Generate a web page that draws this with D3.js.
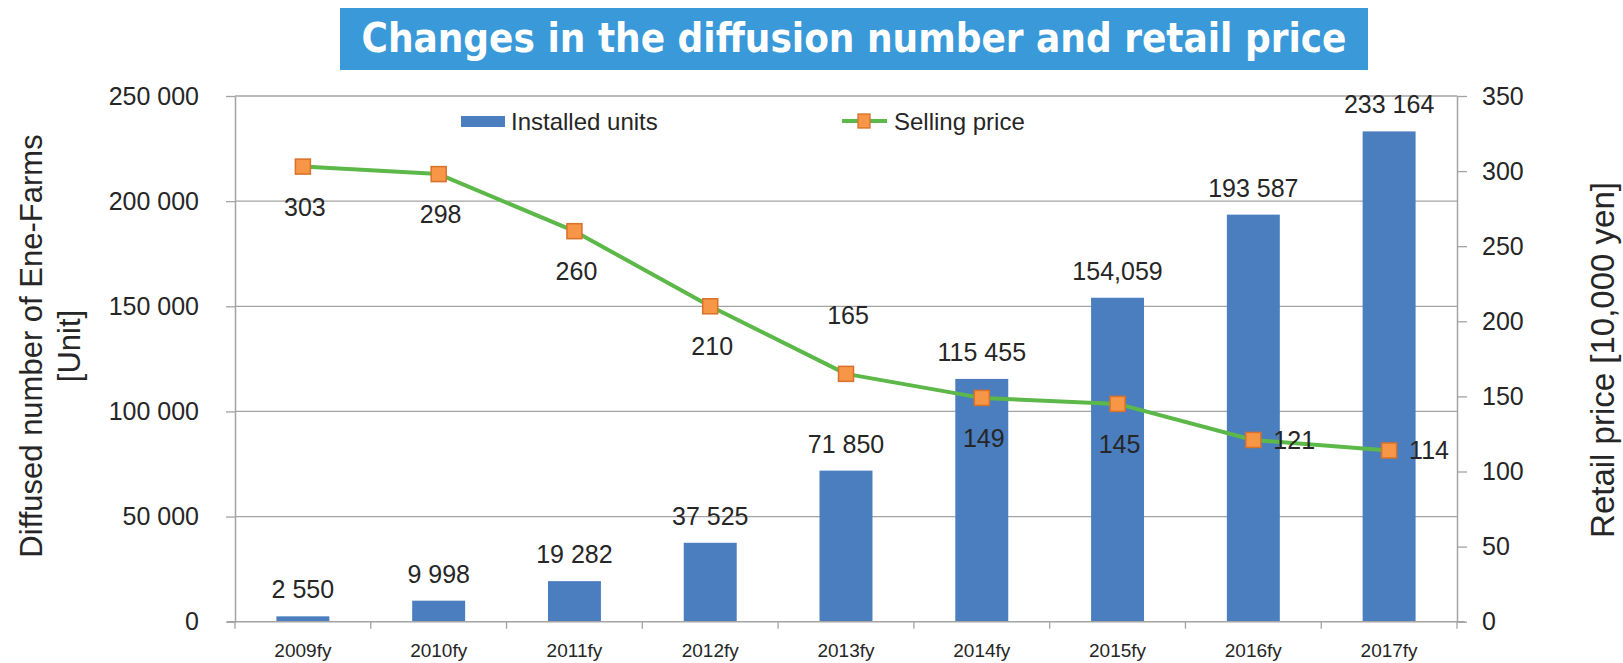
<!DOCTYPE html>
<html>
<head>
<meta charset="utf-8">
<script src="https://cdn.jsdelivr.net/npm/d3@7/dist/d3.min.js"></script>
<style>
  html, body { margin: 0; padding: 0; background: #ffffff; }
  svg { display: block; }
  text { font-family: "Liberation Sans", Arial, sans-serif; fill: #262626; }
</style>
</head>
<body>
<svg id="chart" width="1623" height="663"></svg>
<script>
// ---- Data ----
const categories = ["2009fy", "2010fy", "2011fy", "2012fy", "2013fy", "2014fy", "2015fy", "2016fy", "2017fy"];
const installedUnits = [2550, 9998, 19282, 37525, 71850, 115455, 154059, 193587, 233164];
const installedLabels = ["2 550", "9 998", "19 282", "37 525", "71 850", "115 455", "154,059", "193 587", "233 164"];
const sellingPrice = [303, 298, 260, 210, 165, 149, 145, 121, 114];
const priceLabelSide = ["below", "below", "below", "below", "above", "below", "below", "right", "right"];
const leftTicks = [0, 50000, 100000, 150000, 200000, 250000];
const leftTickLabels = ["0", "50 000", "100 000", "150 000", "200 000", "250 000"];
const rightTicks = [0, 50, 100, 150, 200, 250, 300, 350];
const titleText = "Changes in the diffusion number and retail price";
const legendLabels = ["Installed units", "Selling price"];
const leftAxisTitle = ["Diffused number of Ene-Farms", "[Unit]"];
const rightAxisTitle = "Retail price [10,000 yen]";

// ---- Layout ----
const svg = d3.select("#chart");
const plot = { left: 235, right: 1457, top: 96, bottom: 621.7 };
const barColor = "#4a7ebf";
const lineColor = "#5cb848";
const gridColor = "#a3a3a3";

const x = d3.scaleBand().domain(categories)
  .range([plot.left, plot.right]).paddingInner(0.61).paddingOuter(0.305);
const yL = d3.scaleLinear().domain([0, 250000]).range([plot.bottom, plot.top]);
const yR = d3.scaleLinear().domain([0, 350]).range([plot.bottom, plot.top]);
const cx = c => x(c) + x.bandwidth() / 2;

// Title box
svg.append("rect").attr("x", 340).attr("y", 8).attr("width", 1028).attr("height", 62)
  .attr("fill", "#3a9ad9");
svg.append("text").attr("x", 854).attr("y", 52).attr("text-anchor", "middle")
  .style("font-family", "'DejaVu Sans', Verdana, sans-serif").style("font-weight", "bold")
  .style("font-size", "40px").style("fill", "#ffffff")
  .attr("textLength", 985).attr("lengthAdjust", "spacingAndGlyphs")
  .text(titleText);

// Gridlines
svg.append("g").selectAll("line").data(leftTicks.slice(1)).join("line")
  .attr("x1", plot.left).attr("x2", plot.right)
  .attr("y1", d => yL(d)).attr("y2", d => yL(d))
  .attr("stroke", gridColor).attr("stroke-width", 1.3);

// Left axis
const axL = svg.append("g").attr("transform", `translate(${plot.left},0)`)
  .call(d3.axisLeft(yL).tickValues(leftTicks).tickFormat((d, i) => leftTickLabels[i])
    .tickSizeInner(9).tickSizeOuter(0).tickPadding(27));
axL.select(".domain").attr("stroke", gridColor).attr("stroke-width", 1.5);
axL.selectAll(".tick line").attr("stroke", gridColor).attr("stroke-width", 1.3);
axL.selectAll(".tick text").style("font-size", "25px").style("font-family", "'Liberation Sans', Arial, sans-serif").attr("fill", "#262626");

// Right axis
const axR = svg.append("g").attr("transform", `translate(${plot.right},0)`)
  .call(d3.axisRight(yR).tickValues(rightTicks).tickSizeInner(10).tickSizeOuter(0).tickPadding(15));
axR.select(".domain").attr("stroke", gridColor).attr("stroke-width", 1.5);
axR.selectAll(".tick line").attr("stroke", gridColor).attr("stroke-width", 1.3);
axR.selectAll(".tick text").style("font-size", "25px").style("font-family", "'Liberation Sans', Arial, sans-serif").attr("fill", "#262626");

// Bars
svg.append("g").selectAll("rect").data(categories).join("rect")
  .attr("x", d => x(d)).attr("width", x.bandwidth())
  .attr("y", (d, i) => yL(installedUnits[i]))
  .attr("height", (d, i) => yL(0) - yL(installedUnits[i]))
  .attr("fill", barColor);

// Bottom axis line + boundary ticks
svg.append("line").attr("x1", plot.left - 8).attr("x2", plot.right + 8)
  .attr("y1", plot.bottom).attr("y2", plot.bottom)
  .attr("stroke", gridColor).attr("stroke-width", 1.5);
svg.append("g").selectAll("line").data(d3.range(categories.length + 1)).join("line")
  .attr("x1", i => plot.left + i * x.step()).attr("x2", i => plot.left + i * x.step())
  .attr("y1", plot.bottom).attr("y2", plot.bottom + 7)
  .attr("stroke", gridColor).attr("stroke-width", 1.3);
svg.append("g").selectAll("text").data(categories).join("text")
  .attr("x", d => cx(d)).attr("y", 657).attr("text-anchor", "middle")
  .style("font-size", "19px").text(d => d);

// Bar value labels
svg.append("g").selectAll("text").data(categories).join("text")
  .attr("x", d => cx(d)).attr("y", (d, i) => yL(installedUnits[i]) - 18)
  .attr("text-anchor", "middle").style("font-size", "25px")
  .text((d, i) => installedLabels[i]);

// Price line
const line = d3.line().x((d, i) => cx(categories[i])).y(d => yR(d));
svg.append("path").datum(sellingPrice).attr("d", line)
  .attr("fill", "none").attr("stroke", lineColor).attr("stroke-width", 4)
  .attr("stroke-linejoin", "round");
const ms = 15;
svg.append("g").selectAll("rect").data(sellingPrice).join("rect")
  .attr("x", (d, i) => cx(categories[i]) - ms / 2).attr("y", d => yR(d) - ms / 2)
  .attr("width", ms).attr("height", ms)
  .attr("fill", "#f79646").attr("stroke", "#d8712a").attr("stroke-width", 1.5);

// Price labels
svg.append("g").selectAll("text").data(sellingPrice).join("text")
  .attr("x", (d, i) => priceLabelSide[i] === "right" ? cx(categories[i]) + 20 : cx(categories[i]) + 2)
  .attr("y", (d, i) => {
    const p = yR(d);
    if (priceLabelSide[i] === "below") return p + 49;
    if (priceLabelSide[i] === "above") return p - 50;
    return p + 9;
  })
  .attr("text-anchor", (d, i) => priceLabelSide[i] === "right" ? "start" : "middle")
  .style("font-size", "25px").text(d => d);

// Legend
const lg = svg.append("g");
lg.append("rect").attr("x", 461).attr("y", 116).attr("width", 44).attr("height", 11).attr("fill", barColor);
lg.append("text").attr("x", 511).attr("y", 130).style("font-size", "24px").text(legendLabels[0]);
lg.append("line").attr("x1", 842).attr("x2", 887).attr("y1", 121).attr("y2", 121)
  .attr("stroke", lineColor).attr("stroke-width", 4);
lg.append("rect").attr("x", 864 - 6).attr("y", 121 - 7).attr("width", 12).attr("height", 14)
  .attr("fill", "#f79646").attr("stroke", "#d8712a").attr("stroke-width", 1.3);
lg.append("text").attr("x", 894).attr("y", 130).style("font-size", "24px").text(legendLabels[1]);

// Axis titles
const lt = svg.append("text").attr("transform", "translate(0,346) rotate(-90)")
  .attr("text-anchor", "middle").style("font-size", "31px");
lt.append("tspan").attr("x", 0).attr("y", 42).text(leftAxisTitle[0]);
lt.append("tspan").attr("x", 0).attr("y", 80).text(leftAxisTitle[1]);
svg.append("text").attr("transform", "translate(1614,360) rotate(-90)")
  .attr("text-anchor", "middle").style("font-size", "33px").text(rightAxisTitle);
</script>
</body>
</html>
